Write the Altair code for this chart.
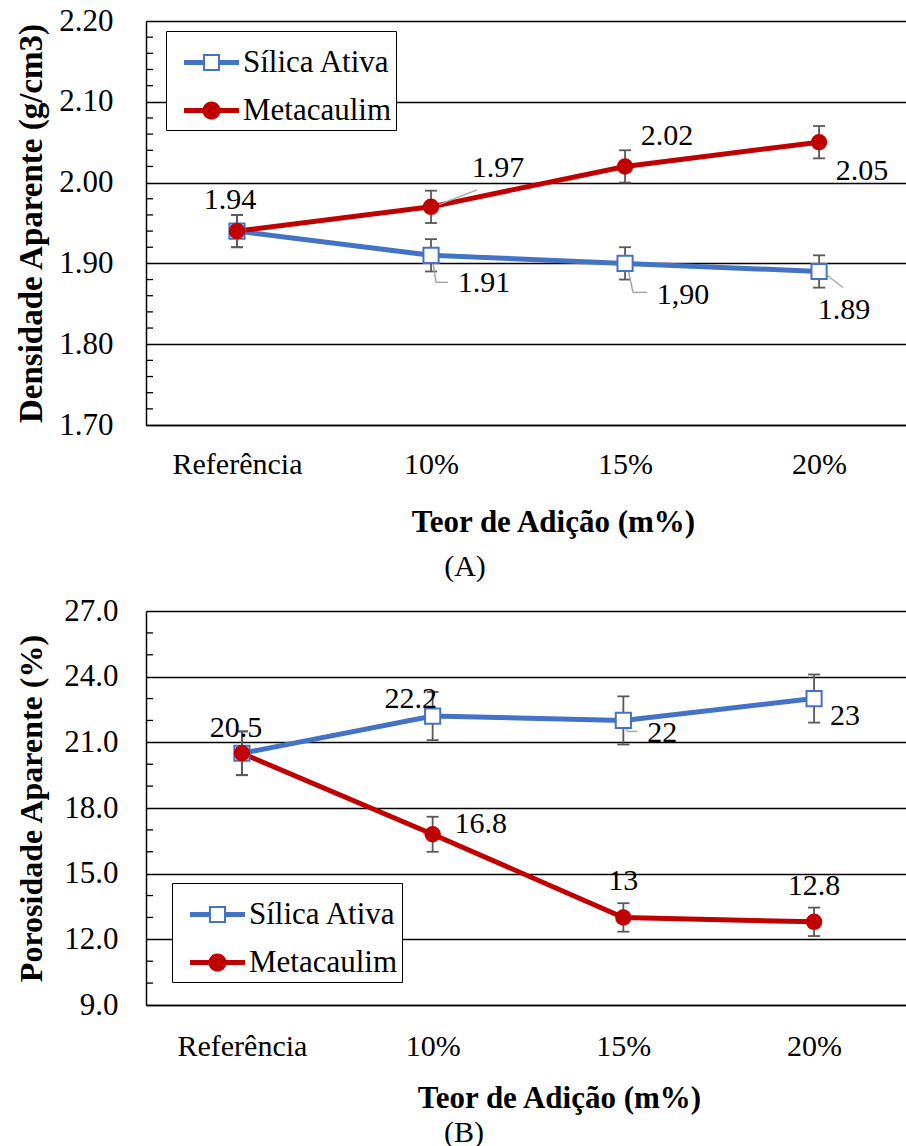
import json
import altair as alt
import pandas as pd

# ---------------- data ----------------
categories = ["Referência", "10%", "15%", "20%"]
series_names = ["Sílica Ativa", "Metacaulim"]
series_colors = ["#4472C4", "#C00000"]

# Panel A - densidade aparente (g/cm3)
dens_silica = [1.94, 1.91, 1.90, 1.89]
dens_silica_err = [0.02, 0.02, 0.02, 0.02]
dens_silica_lbl = ["", "1.91", "1,90", "1.89"]
dens_meta = [1.94, 1.97, 2.02, 2.05]
dens_meta_err = [0.02, 0.02, 0.02, 0.02]
dens_meta_lbl = ["1.94", "1.97", "2.02", "2.05"]
dens_major = [1.70, 1.80, 1.90, 2.00, 2.10, 2.20]
dens_minor = [1.72, 1.74, 1.76, 1.78, 1.82, 1.84, 1.86, 1.88, 1.92, 1.94, 1.96, 1.98,
              2.02, 2.04, 2.06, 2.08, 2.12, 2.14, 2.16, 2.18]

# Panel B - porosidade aparente (%)
poro_silica = [20.5, 22.2, 22.0, 23.0]
poro_silica_err = [1.0, 1.1, 1.1, 1.1]
poro_silica_lbl = ["20.5", "22.2", "22", "23"]
poro_meta = [20.5, 16.8, 13.0, 12.8]
poro_meta_err = [1.0, 0.8, 0.65, 0.65]
poro_meta_lbl = ["", "16.8", "13", "12.8"]
poro_major = [9.0, 12.0, 15.0, 18.0, 21.0, 24.0, 27.0]
poro_minor = [10, 11, 13, 14, 16, 17, 19, 20, 22, 23, 25, 26]

# ---------------- style ----------------
FONT = "Times New Roman, Liberation Serif, Times, serif"
ERR_COLOR = "#595959"
LEADER_COLOR = "#A6A6A6"

# label pixel offsets (dx, dy) per point, None = no label
dens_silica_off = [None, (53, 28), (58, 32), (25, 39)]
dens_meta_off = [(-7, -31), (67, -39), (42, -30), (43, 29)]
poro_silica_off = [(-6, -25), (-22, -17), (39, 13), (31, 17)]
poro_meta_off = [None, (48, -10), (0, -36), (0, -36)]

# leader lines: (series index, point index, x1, y1, x2, y2) pixel offsets from point
dens_leaders = [(1, 1, 2, 0, 46, -17),
                (0, 1, 2, 7, 5, 27), (0, 1, 5, 27, 17, 27),
                (0, 2, 3, 6, 8, 29), (0, 2, 8, 29, 22, 29),
                (0, 3, 4, 1, 24, 16)]
poro_leaders = [(0, 2, 2, 3, 4, 11), (0, 2, 4, 11, 14, 11)]

# legend symbols (line + marker) as custom paths
SYM_SILICA = ("M-1,-0.091H-0.31V0.091H-1Z M0.31,-0.091H1V0.091H0.31Z "
              "M-0.31,-0.31H0.31V0.31H-0.31Z M-0.236,-0.236V0.236H0.236V-0.236Z")
SYM_META = ("M-1,-0.091H1V0.091H-1Z "
            "M-0.33,0A0.33,0.33 0 1,1 0.33,0A0.33,0.33 0 1,1 -0.33,0Z")


def make_df(vals, errs, labels, name):
    return pd.DataFrame({
        "idx": list(range(len(categories))),
        "cat": categories,
        "series": name,
        "value": vals,
        "lo": [v - e for v, e in zip(vals, errs)],
        "hi": [v + e for v, e in zip(vals, errs)],
        "label": labels,
    })


label_expr = "%s[datum.value]" % json.dumps(categories, ensure_ascii=False)


def panel(df_s, df_m, ydom, ymajor, yminor, yfmt, ytitle, xdom, width, height,
          offs_s, offs_m, leaders, legend_xy, caption, cap_dx, cap_offset,
          ytitle_x, ytitle_size, ylab_pad, xlab_pad, xtitle_x, xtitle_pad):
    xs = alt.Scale(domain=xdom, nice=False, zero=False)
    ys = alt.Scale(domain=ydom, nice=False, zero=False)

    x_axis = alt.Axis(values=list(range(len(categories))), labelExpr=label_expr,
                      grid=False, ticks=False, tickSize=0, domain=True,
                      domainColor="black", domainWidth=1.5,
                      labelFont=FONT, labelFontSize=30, labelColor="black",
                      labelPadding=xlab_pad, labelFlush=False, labelOverlap=False,
                      title="Teor de Adição (m%)", titleFont=FONT, titleFontSize=31,
                      titleFontWeight="bold", titleColor="black",
                      titleX=xtitle_x, titlePadding=xtitle_pad)
    y_axis = alt.Axis(values=ymajor, format=yfmt, grid=True, gridColor="black",
                      gridWidth=1.4, ticks=False, tickSize=0, domain=True,
                      domainColor="black", domainWidth=1.5,
                      labelFont=FONT, labelFontSize=31, labelColor="black",
                      labelPadding=ylab_pad, labelFlush=False, labelOverlap=False,
                      title=ytitle, titleFont=FONT, titleFontSize=ytitle_size,
                      titleFontWeight="bold", titleColor="black",
                      titleX=ytitle_x, titleY=height / 2, titleBaseline="middle",
                      titleAlign="center", titleAngle=270)

    def X():
        return alt.X("idx:Q", scale=xs, axis=x_axis)

    def Y(field):
        return alt.Y(field, scale=ys, axis=y_axis)

    layers = []
    dfs = [df_s, df_m]
    offs = [offs_s, offs_m]
    # lines
    for k, df in enumerate(dfs):
        layers.append(alt.Chart(df).mark_line(color=series_colors[k], strokeWidth=5).encode(
            x=X(), y=Y("value:Q")))
    # minor ticks (inside the plot)
    minor_df = pd.DataFrame({"value": yminor})
    layers.append(alt.Chart(minor_df).mark_rule(color="black", strokeWidth=1.3).encode(
        x=alt.value(0), x2=alt.value(7), y=Y("value:Q")))
    # error bars
    for k, df in enumerate(dfs):
        base = alt.Chart(df)
        layers.append(base.mark_rule(color=ERR_COLOR, strokeWidth=1.8).encode(
            x=X(), y=Y("lo:Q"), y2="hi:Q"))
        for f in ["lo", "hi"]:
            layers.append(base.mark_rule(color=ERR_COLOR, strokeWidth=1.8,
                                         xOffset=-6, x2Offset=6).encode(
                x=X(), x2="idx:Q", y=Y(f + ":Q")))
    # leader lines
    for (k, i, x1, y1, x2, y2) in leaders:
        layers.append(alt.Chart(dfs[k]).transform_filter(alt.datum.idx == i).mark_rule(
            color=LEADER_COLOR, strokeWidth=1.5,
            xOffset=x1, yOffset=y1, x2Offset=x2, y2Offset=y2).encode(
            x=X(), x2="idx:Q", y=Y("value:Q"), y2="value:Q"))
    # markers
    layers.append(alt.Chart(df_s).mark_point(shape="square", size=230, filled=True,
                                             fill="white", stroke=series_colors[0],
                                             strokeWidth=2, opacity=1).encode(
        x=X(), y=Y("value:Q")))
    layers.append(alt.Chart(df_m).mark_point(shape="circle", size=270, filled=True,
                                             color=series_colors[1], opacity=1).encode(
        x=X(), y=Y("value:Q")))
    # data labels
    for k, df in enumerate(dfs):
        for i, off in enumerate(offs[k]):
            if off is None:
                continue
            layers.append(alt.Chart(df).transform_filter(alt.datum.idx == i).mark_text(
                font=FONT, fontSize=30, color="black", dx=off[0], dy=off[1],
                align="center", baseline="middle").encode(
                x=X(), y=Y("value:Q"), text="label:N"))
    # legend (driven by explicit scale domains)
    leg = alt.Legend(title=None, orient="none", legendX=legend_xy[0], legendY=legend_xy[1],
                     symbolSize=3025, symbolStrokeWidth=0, symbolOffset=14, labelFont=FONT,
                     labelFontSize=31, labelColor="black", labelOffset=4, labelLimit=0,
                     labelExpr="datum.label + '  '",
                     padding=4, rowPadding=5, strokeColor="black", fillColor="white")
    legend_df = pd.DataFrame({"series": series_names, "idx": [0, 0], "value": [ydom[0]] * 2})
    layers.append(alt.Chart(legend_df).transform_filter("false").mark_point(
        filled=True, size=3025, opacity=1, strokeWidth=0).encode(
        x=X(), y=Y("value:Q"),
        color=alt.Color("series:N", scale=alt.Scale(domain=series_names, range=series_colors),
                        legend=leg),
        shape=alt.Shape("series:N", scale=alt.Scale(domain=series_names,
                                                     range=[SYM_SILICA, SYM_META]),
                        legend=leg)))

    return alt.layer(*layers).properties(
        width=width, height=height,
        title=alt.TitleParams(caption, orient="bottom", anchor="middle", frame="group",
                              dx=cap_dx, offset=cap_offset, font=FONT, fontSize=30,
                              fontWeight="normal", color="black"))


df_dens_s = make_df(dens_silica, dens_silica_err, dens_silica_lbl, series_names[0])
df_dens_m = make_df(dens_meta, dens_meta_err, dens_meta_lbl, series_names[1])
df_poro_s = make_df(poro_silica, poro_silica_err, poro_silica_lbl, series_names[0])
df_poro_m = make_df(poro_meta, poro_meta_err, poro_meta_lbl, series_names[1])

chart_a = panel(df_dens_s, df_dens_m, [1.70, 2.20], dens_major, dens_minor, ".2f",
                "Densidade Aparente (g/cm3)", [-0.469, 3.448], 760, 404,
                dens_silica_off, dens_meta_off, dens_leaders, (20, 10), "(A)", -61, 15,
                -115, 33, 33, 24, 407, 28)
chart_b = panel(df_poro_s, df_poro_m, [9.0, 27.0], poro_major, poro_minor, ".1f",
                "Porosidade Aparente (%)", [-0.503, 3.482], 760, 394,
                poro_silica_off, poro_meta_off, poro_leaders, (26, 272), "(B)", -62, 5,
                -115, 32, 28, 26, 413, 22)

chart = alt.concat(chart_a, chart_b, columns=1, spacing=13).resolve_scale(
    color="independent", shape="independent", x="independent", y="independent"
).resolve_legend(color="independent", shape="independent").properties(
    padding={"left": 14, "top": 5, "right": 0, "bottom": 0},
    background="white",
).configure_view(stroke=None)

chart.save("out.html", embed_options={"renderer": "svg", "actions": False})
